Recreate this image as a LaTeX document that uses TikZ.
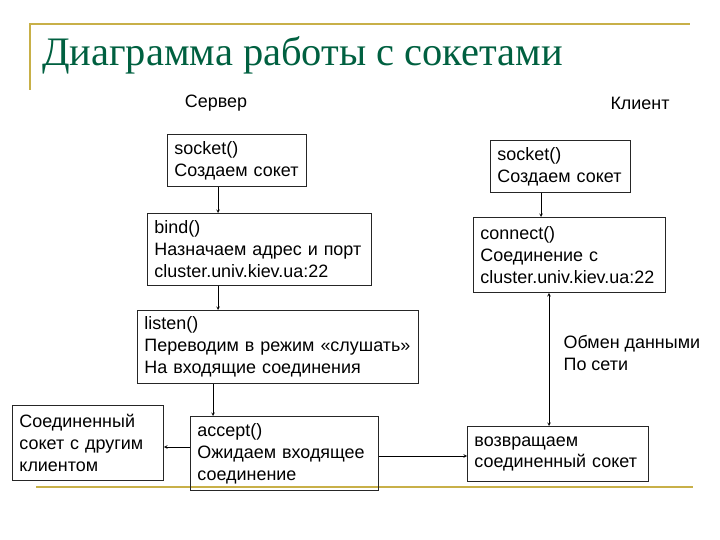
\documentclass[tikz,border=0pt]{standalone}
\usepackage{fontspec}
\setmainfont{Liberation Sans}
\newfontfamily\titlefont{Liberation Serif}
\definecolor{titlegreen}{RGB}{0,96,64}
\definecolor{decogold}{RGB}{200,176,72}

\begin{document}
\begin{tikzpicture}[x=1bp, y=-1bp]
\tikzstyle{box} = [rectangle, draw=black!85, line width=0.9bp, anchor=north west, align=left, inner xsep=7bp, font=\fontsize{18}{22}\selectfont]
\tikzstyle{caption} = [font=\fontsize{18}{22}\selectfont]
\tikzstyle{arrow} = [->,>=stealth, line width=0.6bp]
\tikzstyle{deco} = [draw=decogold, line width=1.6bp]

\useasboundingbox (0,0) rectangle (720,540);

% slide frame
\draw [deco] (30,90) -- (30,24) -- (690,24);
\draw [deco] (36,487) -- (693,487);

\node (Title) [anchor=base west, text=titlegreen, font=\titlefont\fontsize{40.6}{44}\selectfont, inner sep=0pt] at (42,66) {Диаграмма работы с сокетами};

\node (Server) [caption] at (216,103) {Сервер};
\node (Client) [caption] at (640,103) {Клиент};

% server side
\node (ServerSocket) [box, text width=125bp, minimum height=52bp] at (167,134) {socket()\\Создаем сокет};
\node (ServerBind) [box, text width=210bp, minimum height=72bp] at (147,213) {bind()\\Назначаем адрес и порт\\cluster.univ.kiev.ua:22};
\node (ServerListen) [box, text width=267bp, minimum height=73bp] at (137,310) {listen()\\Переводим в режим «слушать»\\На входящие соединения};
\node (ServerAccept) [box, text width=174bp, minimum height=74bp] at (190,416) {accept()\\Ожидаем входящее\\соединение};
\node (ConnectedSocket) [box, text width=137bp, minimum height=75bp] at (12,405) {Соединенный\\сокет с другим\\клиентом};

% client side
\node (ClientSocket) [box, text width=126bp, minimum height=52bp] at (490,140) {socket()\\Создаем сокет};
\node (ClientConnect) [box, text width=178bp, minimum height=75bp] at (473,217) {connect()\\Соединение с\\cluster.univ.kiev.ua:22};
\node (ReturnedSocket) [box, text width=167bp, minimum height=55bp] at (467,426) {возвращаем\\соединенный сокет};

\coordinate (ServerLine) at (218,0);
\coordinate (AcceptLine) at (213,0);
\coordinate (ClientLine) at (541,0);
\coordinate (ExchangeLine) at (549,0);
\coordinate (LeftRow) at (0,447);
\coordinate (RightRow) at (0,456);

\draw [arrow] (ServerSocket.south -| ServerLine) -- (ServerBind.north -| ServerLine);
\draw [arrow] (ServerBind.south -| ServerLine) -- (ServerListen.north -| ServerLine);
\draw [arrow] (ServerListen.south -| AcceptLine) -- (ServerAccept.north -| AcceptLine);
\draw [arrow] (ServerAccept.west |- LeftRow) -- (ConnectedSocket.east |- LeftRow);
\draw [arrow] (ServerAccept.east |- RightRow) -- (ReturnedSocket.west |- RightRow);
\draw [arrow] (ClientSocket.south -| ClientLine) -- (ClientConnect.north -| ClientLine);
\draw [arrow, <->] (ClientConnect.south -| ExchangeLine) -- node (Exchange) [caption, anchor=west, align=left, pos=0.45, xshift=11bp] {Обмен данными\\По сети} (ReturnedSocket.north -| ExchangeLine);

\end{tikzpicture}
\end{document}
